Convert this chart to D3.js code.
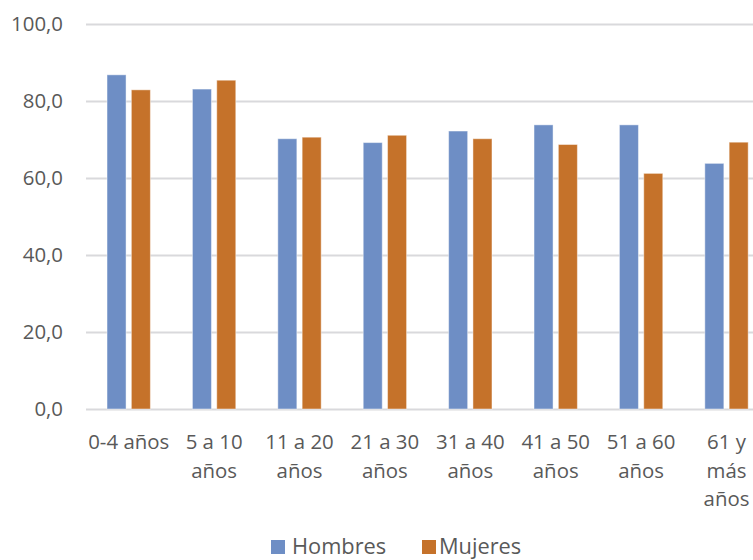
<!DOCTYPE html>
<html>
<head>
<meta charset="utf-8">
<script src="https://cdn.jsdelivr.net/npm/d3@7"></script>
<style>
  html, body { margin: 0; padding: 0; background: #ffffff; }
  svg { display: block; font-family: "Open Sans", sans-serif; }
</style>
</head>
<body>
<svg id="chart" width="753" height="560"></svg>
<script>
const categories = ["0-4 años", "5 a 10 años", "11 a 20 años", "21 a 30 años", "31 a 40 años", "41 a 50 años", "51 a 60 años", "61 y más años"];
const categoryLines = [["0-4 años"], ["5 a 10", "años"], ["11 a 20", "años"], ["21 a 30", "años"], ["31 a 40", "años"], ["41 a 50", "años"], ["51 a 60", "años"], ["61 y", "más", "años"]];
const seriesNames = ["Hombres", "Mujeres"];
const hombres = [86.8, 83.1, 70.2, 69.2, 72.2, 73.8, 73.8, 63.8];
const mujeres = [82.9, 85.4, 70.6, 71.1, 70.2, 68.7, 61.2, 69.3];
const yTicks = [0, 20, 40, 60, 80, 100];
const colors = ["#6E8EC5", "#C5722A"];

const svg = d3.select("#chart");
const mLeft = 86, mRight = 769.2, mTop = 24, mBottom = 409;

const x0 = d3.scaleBand().domain(categories).range([mLeft, mRight]).paddingInner(0).paddingOuter(0);
const x1 = d3.scaleBand().domain(seriesNames).range([0, x0.bandwidth()]).paddingInner(0.218).paddingOuter(0.864);
const y = d3.scaleLinear().domain([0, 100]).range([mBottom, mTop]);
const color = d3.scaleOrdinal().domain(seriesNames).range(colors);

const locale = d3.formatLocale({ decimal: ",", thousands: ".", grouping: [3], currency: ["", "€"] });
const fmt = locale.format(".1f");

// gridlines
const grid = svg.append("g").attr("transform", `translate(${mLeft},0)`)
  .call(d3.axisLeft(y).tickValues(yTicks).tickSize(-(753 - mLeft)).tickFormat(""));
grid.select(".domain").remove();
grid.selectAll(".tick line").attr("stroke", "#D9D9DC").attr("stroke-width", 2);

// y labels
const yAxis = svg.append("g").attr("transform", `translate(${mLeft},0)`)
  .call(d3.axisLeft(y).tickValues(yTicks).tickSize(0).tickPadding(23).tickFormat(fmt));
yAxis.select(".domain").remove();
yAxis.selectAll("text").attr("font-size", "20.4px").attr("fill", "#595959").attr("font-family", "Open Sans, sans-serif");

// bars
const data = categories.map((c, i) => ({ cat: c, values: [{ s: "Hombres", v: hombres[i] }, { s: "Mujeres", v: mujeres[i] }] }));
const groups = svg.append("g").selectAll("g").data(data).join("g")
  .attr("transform", d => `translate(${x0(d.cat)},0)`);
groups.selectAll("rect").data(d => d.values).join("rect")
  .attr("x", d => x1(d.s))
  .attr("width", x1.bandwidth())
  .attr("y", d => y(d.v))
  .attr("height", d => y(0) - y(d.v))
  .attr("fill", d => color(d.s))
  .attr("stroke", "rgba(255,255,255,0.45)")
  .attr("stroke-width", 1);

// x axis labels
const xAxis = svg.append("g").attr("transform", `translate(0,${mBottom})`)
  .call(d3.axisBottom(x0).tickSize(0).tickFormat(""));
xAxis.select(".domain").remove();
xAxis.selectAll(".tick").each(function (d, i) {
  const t = d3.select(this).append("text")
    .attr("text-anchor", "middle")
    .attr("font-size", "20.4px")
    .attr("fill", "#595959")
    .attr("font-family", "Open Sans, sans-serif");
  categoryLines[i].forEach((line, j) => {
    t.append("tspan").attr("x", 0).attr("y", 40 + j * 28.5).text(line);
  });
});

// legend
const legend = svg.append("g");
const legendPos = [{ sq: 271, tx: 292 }, { sq: 422, tx: 439 }];
seriesNames.forEach((s, i) => {
  legend.append("rect").attr("x", legendPos[i].sq).attr("y", 540).attr("width", 14).attr("height", 14).attr("fill", color(s));
  legend.append("text").attr("x", legendPos[i].tx).attr("y", 554)
    .attr("font-size", "21.8px").attr("fill", "#595959").attr("font-family", "Open Sans, sans-serif").text(s);
});
</script>
</body>
</html>
